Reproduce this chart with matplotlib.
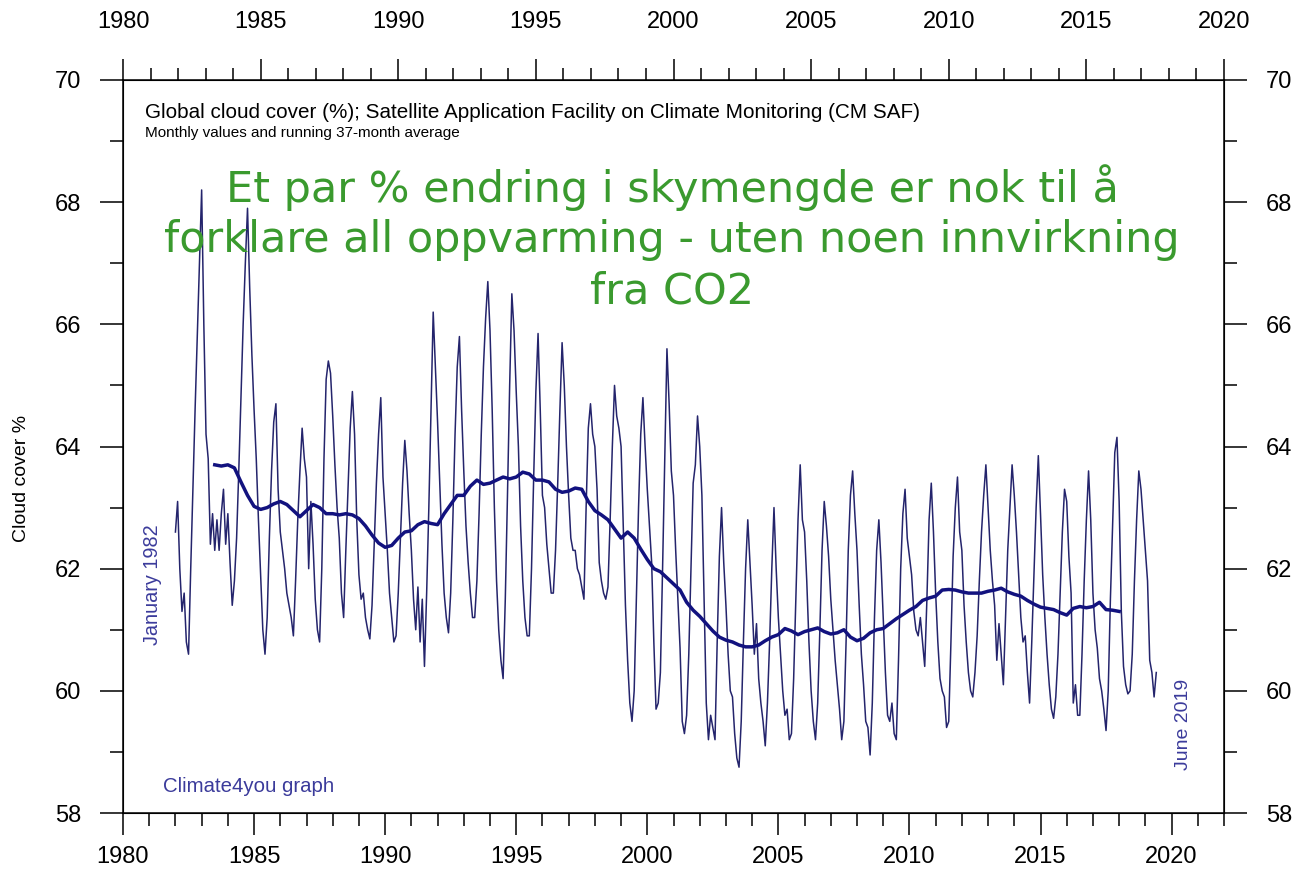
import numpy as np
import matplotlib
matplotlib.use("Agg")
import matplotlib.pyplot as plt
from matplotlib.ticker import MultipleLocator

plt.rcParams['font.family'] = ['Liberation Sans', 'DejaVu Sans']

# Monthly global cloud cover (%), Jan 1982 - Jun 2019
m1982 = [62.6, 63.1, 62.0, 61.3, 61.6, 60.8, 60.6, 62.0, 63.3, 64.6, 65.8, 67.0]
m1983 = [68.2, 66.0, 64.2, 63.8, 62.4, 62.9, 62.3, 62.8, 62.3, 62.9, 63.3, 62.4]
m1984 = [62.9, 62.1, 61.4, 61.8, 62.5, 63.6, 64.8, 66.0, 67.0, 67.9, 66.6, 65.5]
m1985 = [64.6, 63.8, 62.8, 61.9, 61.0, 60.6, 61.2, 62.5, 63.6, 64.4, 64.7, 63.3]
m1986 = [62.6, 62.3, 62.0, 61.6, 61.4, 61.2, 60.9, 61.8, 62.8, 63.6, 64.3, 63.8]
m1987 = [63.5, 62.0, 63.1, 62.4, 61.5, 61.0, 60.8, 62.0, 63.8, 65.1, 65.4, 65.2]
m1988 = [64.5, 63.7, 63.0, 62.5, 61.6, 61.2, 62.3, 63.3, 64.3, 64.9, 64.2, 62.8]
m1989 = [61.9, 61.5, 61.6, 61.2, 61.0, 60.85, 61.4, 62.4, 63.4, 64.2, 64.8, 63.5]
m1990 = [62.9, 62.3, 61.6, 61.2, 60.8, 60.9, 61.6, 62.5, 63.4, 64.1, 63.6, 62.9]
m1991 = [62.3, 61.5, 61.0, 61.7, 60.8, 61.5, 60.4, 61.6, 63.0, 64.6, 66.2, 65.3]
m1992 = [64.4, 63.4, 62.4, 61.6, 61.2, 60.95, 61.6, 62.8, 64.2, 65.3, 65.8, 64.6]
m1993 = [63.6, 62.7, 62.1, 61.6, 61.2, 61.2, 61.8, 62.9, 64.2, 65.3, 66.1, 66.7]
m1994 = [65.9, 64.6, 63.0, 61.8, 61.0, 60.5, 60.2, 61.5, 63.2, 65.0, 66.5, 65.9]
m1995 = [64.9, 64.0, 62.7, 61.8, 61.2, 60.9, 60.9, 62.0, 63.5, 64.9, 65.85, 64.6]
m1996 = [63.2, 63.0, 62.4, 62.0, 61.6, 61.6, 62.3, 63.4, 64.6, 65.7, 65.0, 64.0]
m1997 = [63.2, 62.5, 62.3, 62.3, 62.0, 61.9, 61.7, 61.5, 63.0, 64.3, 64.7, 64.2]
m1998 = [64.0, 63.3, 62.1, 61.8, 61.6, 61.5, 61.7, 62.8, 64.0, 65.0, 64.5, 64.3]
m1999 = [64.0, 62.7, 61.4, 60.5, 59.8, 59.5, 60.0, 61.5, 63.0, 64.2, 64.8, 64.0]
m2000 = [63.3, 62.7, 62.1, 60.8, 59.7, 59.8, 60.3, 62.0, 63.8, 65.6, 64.7, 63.6]
m2001 = [63.2, 62.3, 61.5, 60.7, 59.5, 59.3, 59.6, 60.6, 62.0, 63.4, 63.7, 64.5]
m2002 = [64.0, 63.2, 61.5, 59.8, 59.2, 59.6, 59.4, 59.2, 60.8, 62.2, 63.0, 62.1]
m2003 = [61.4, 60.6, 60.0, 59.9, 59.3, 58.9, 58.75, 59.5, 60.8, 62.0, 62.8, 62.1]
m2004 = [61.4, 60.6, 61.1, 60.2, 59.8, 59.5, 59.1, 59.8, 60.8, 62.0, 63.0, 62.0]
m2005 = [61.2, 60.6, 60.0, 59.6, 59.7, 59.2, 59.3, 60.2, 61.5, 62.8, 63.7, 62.8]
m2006 = [62.6, 61.8, 60.8, 60.0, 59.5, 59.2, 59.8, 61.0, 62.3, 63.1, 62.7, 62.2]
m2007 = [61.5, 61.0, 60.5, 60.1, 59.7, 59.2, 59.5, 60.8, 62.3, 63.2, 63.6, 62.9]
m2008 = [62.3, 61.4, 60.6, 60.1, 59.5, 59.4, 58.95, 59.8, 61.2, 62.3, 62.8, 62.1]
m2009 = [61.2, 60.3, 59.6, 59.5, 59.8, 59.3, 59.2, 60.5, 62.0, 62.9, 63.3, 62.5]
m2010 = [62.2, 61.9, 61.3, 61.0, 60.9, 61.2, 60.8, 60.4, 61.5, 62.8, 63.4, 62.6]
m2011 = [61.6, 60.8, 60.2, 60.0, 59.9, 59.4, 59.5, 60.8, 62.2, 63.0, 63.5, 62.6]
m2012 = [62.3, 61.4, 60.8, 60.3, 60.0, 59.9, 60.3, 60.9, 61.8, 62.6, 63.2, 63.7]
m2013 = [63.0, 62.3, 61.8, 61.4, 60.5, 61.1, 60.6, 60.1, 61.2, 62.3, 63.0, 63.7]
m2014 = [63.2, 62.6, 61.9, 61.2, 60.8, 60.9, 60.3, 59.8, 60.8, 61.9, 63.0, 63.85]
m2015 = [62.9, 61.9, 61.2, 60.6, 60.1, 59.7, 59.55, 59.9, 60.6, 61.6, 62.6, 63.3]
m2016 = [63.1, 62.2, 61.6, 59.8, 60.1, 59.6, 59.6, 60.6, 61.8, 62.8, 63.6, 62.8]
m2017 = [61.6, 61.0, 60.7, 60.2, 60.0, 59.7, 59.35, 60.0, 61.5, 62.7, 63.9, 64.15]
m2018 = [63.1, 61.3, 60.4, 60.1, 59.95, 60.0, 60.6, 61.8, 62.8, 63.6, 63.3, 62.8]
m2019 = [62.3, 61.8, 60.5, 60.3, 59.9, 60.3]

# Running 37-month average, read quarterly from Jul 1983 to Jan 2018
a1983 = [63.70, 63.68]
a1984 = [63.70, 63.65, 63.42, 63.20]
a1985 = [63.02, 62.97, 63.00, 63.06]
a1986 = [63.10, 63.05, 62.95, 62.85]
a1987 = [62.95, 63.05, 63.00, 62.90]
a1988 = [62.90, 62.88, 62.90, 62.88]
a1989 = [62.82, 62.70, 62.55, 62.42]
a1990 = [62.35, 62.38, 62.50, 62.60]
a1991 = [62.62, 62.72, 62.77, 62.74]
a1992 = [62.72, 62.90, 63.05, 63.20]
a1993 = [63.20, 63.35, 63.45, 63.38]
a1994 = [63.40, 63.45, 63.50, 63.47]
a1995 = [63.50, 63.58, 63.55, 63.45]
a1996 = [63.45, 63.42, 63.30, 63.25]
a1997 = [63.27, 63.32, 63.30, 63.10]
a1998 = [62.95, 62.88, 62.80, 62.65]
a1999 = [62.50, 62.60, 62.50, 62.32]
a2000 = [62.15, 62.00, 61.95, 61.85]
a2001 = [61.75, 61.65, 61.45, 61.32]
a2002 = [61.22, 61.10, 60.98, 60.88]
a2003 = [60.83, 60.80, 60.75, 60.72]
a2004 = [60.72, 60.75, 60.82, 60.88]
a2005 = [60.92, 61.02, 60.98, 60.92]
a2006 = [60.97, 61.00, 61.03, 60.97]
a2007 = [60.93, 60.95, 61.00, 60.88]
a2008 = [60.82, 60.86, 60.95, 61.00]
a2009 = [61.02, 61.10, 61.18, 61.25]
a2010 = [61.32, 61.38, 61.48, 61.52]
a2011 = [61.55, 61.65, 61.66, 61.65]
a2012 = [61.62, 61.60, 61.60, 61.60]
a2013 = [61.63, 61.65, 61.68, 61.62]
a2014 = [61.58, 61.55, 61.48, 61.42]
a2015 = [61.37, 61.35, 61.33, 61.28]
a2016 = [61.24, 61.35, 61.38, 61.36]
a2017 = [61.38, 61.45, 61.33, 61.32]
a2018 = [61.30]

monthly = np.array(m1982 + m1983 + m1984 + m1985 + m1986 + m1987 + m1988 + m1989 +
                   m1990 + m1991 + m1992 + m1993 + m1994 + m1995 + m1996 + m1997 +
                   m1998 + m1999 + m2000 + m2001 + m2002 + m2003 + m2004 + m2005 +
                   m2006 + m2007 + m2008 + m2009 + m2010 + m2011 + m2012 + m2013 +
                   m2014 + m2015 + m2016 + m2017 + m2018 + m2019)
t_month = 1982 + np.arange(len(monthly)) / 12.0

avg = np.array(a1983 + a1984 + a1985 + a1986 + a1987 + a1988 + a1989 + a1990 +
               a1991 + a1992 + a1993 + a1994 + a1995 + a1996 + a1997 + a1998 +
               a1999 + a2000 + a2001 + a2002 + a2003 + a2004 + a2005 + a2006 +
               a2007 + a2008 + a2009 + a2010 + a2011 + a2012 + a2013 + a2014 +
               a2015 + a2016 + a2017 + a2018)
t_avg = 1983.5 + 0.25 * np.arange(len(avg))

W, H = 1306, 882
fig = plt.figure(figsize=(W / 100, H / 100), dpi=100)
ax = fig.add_axes([123 / W, 1 - 813 / H, 1101 / W, 733 / H])

ax.plot(t_month, monthly, color='#24246c', lw=1.1)
ax.plot(t_avg, avg, color='#12127f', lw=2.5)

ax.set_xlim(1980, 2022)
ax.set_ylim(58, 70)
ax.xaxis.set_major_locator(MultipleLocator(5))
ax.xaxis.set_minor_locator(MultipleLocator(1))
ax.yaxis.set_major_locator(MultipleLocator(2))
ax.yaxis.set_minor_locator(MultipleLocator(1))
for s in ax.spines.values():
    s.set_linewidth(1.1)
ax.tick_params(which='both', direction='out', width=1.1, colors='black',
               left=True, right=True, labelleft=True, labelright=True,
               bottom=True, top=False)
ax.tick_params(axis='x', which='major', length=16, pad=8, labelsize=17)
ax.tick_params(axis='x', which='minor', length=9.5)
ax.tick_params(axis='y', which='major', length=16.5, pad=13.5, labelsize=17)
ax.tick_params(axis='y', which='minor', length=9.5)

ax2 = ax.twiny()
ax2.set_xlim(1980, 2020)
ax2.xaxis.set_major_locator(MultipleLocator(5))
ax2.xaxis.set_minor_locator(MultipleLocator(1))
ax2.tick_params(axis='x', which='both', direction='out', width=1.1)
ax2.tick_params(axis='x', which='major', length=15, pad=19, labelsize=17)
ax2.tick_params(axis='x', which='minor', length=8.6)

fig.text(22 / W, 1 - 478 / H, 'Cloud cover %', rotation=90, ha='center', va='center', fontsize=14)

fig.text(145 / W, 1 - 112 / H,
         'Global cloud cover (%); Satellite Application Facility on Climate Monitoring (CM SAF)',
         ha='left', va='center', fontsize=14.9)
fig.text(145 / W, 1 - 133 / H, 'Monthly values and running 37-month average',
         ha='left', va='center', fontsize=11)

green = '#3a9a2e'
for txt, yc in [('Et par % endring i skymengde er nok til å', 188),
                ('forklare all oppvarming - uten noen innvirkning', 240),
                ('fra CO2', 291)]:
    fig.text(672 / W, 1 - yc / H, txt, ha='center', va='center', fontsize=31,
             color=green, family=['DejaVu Sans'])

blue_txt = '#3b3b9b'
fig.text(153 / W, 1 - 585 / H, 'January 1982', rotation=90, ha='center', va='center',
         fontsize=14.3, color=blue_txt)
fig.text(1183 / W, 1 - 724 / H, 'June 2019', rotation=90, ha='center', va='center',
         fontsize=14, color=blue_txt)
fig.text(163 / W, 1 - 787 / H, 'Climate4you graph', ha='left', va='center',
         fontsize=14.7, color=blue_txt)

fig.savefig('out.png', dpi=100, facecolor='white')
